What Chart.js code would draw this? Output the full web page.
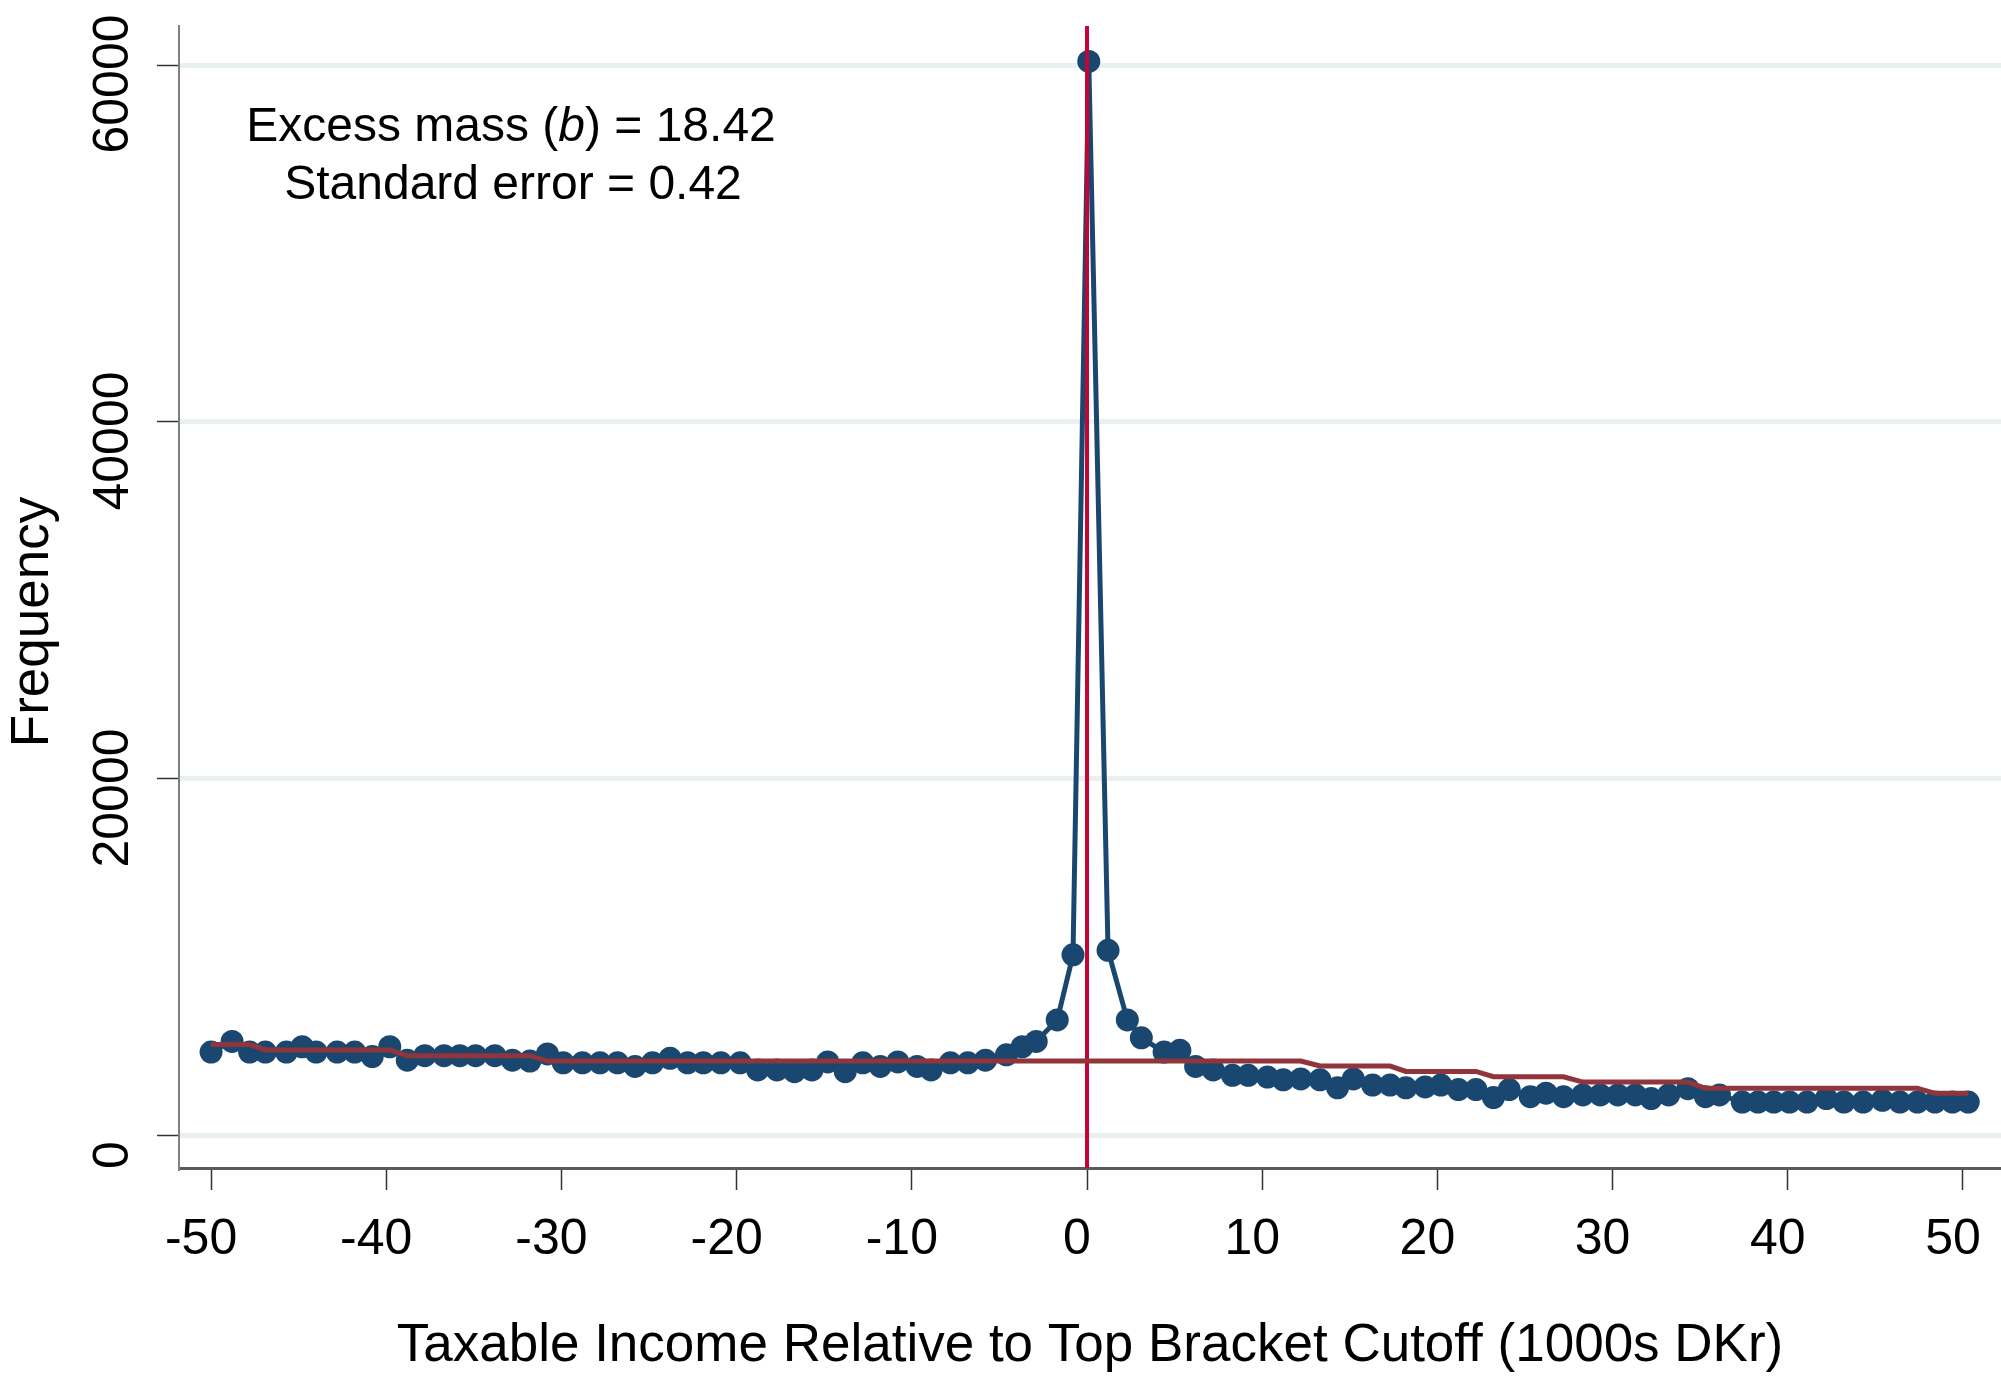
<!DOCTYPE html>
<html>
<head>
<meta charset="utf-8">
<script src="https://cdn.jsdelivr.net/npm/chart.js@4.4.1/dist/chart.umd.min.js"></script>
<style>
  html, body { margin: 0; padding: 0; background: #fff; }
  canvas { display: block; }
</style>
</head>
<body>
<canvas id="bunching" width="2001" height="1379"></canvas>
<script>
// bin centres (1000s DKr relative to cutoff)
const binX = [
  -50.0, -48.8, -47.8, -46.9, -45.7, -44.8, -44.0, -42.8, -41.8, -40.8,
  -39.8, -38.8, -37.8, -36.7, -35.8, -34.9, -33.8, -32.8, -31.8, -30.8,
  -29.9, -28.8, -27.8, -26.8, -25.8, -24.8, -23.8, -22.8, -21.9, -20.9,
  -19.8, -18.8, -17.7, -16.7, -15.7, -14.8, -13.8, -12.8, -11.8, -10.8,
  -9.7, -8.9, -7.8, -6.8, -5.8, -4.6, -3.7, -2.9, -1.7, -0.8,
  0.1, 1.2, 2.3, 3.1, 4.4, 5.3, 6.2, 7.2, 8.3, 9.2,
  10.3, 11.2, 12.2, 13.3, 14.3, 15.2, 16.3, 17.3, 18.2, 19.3,
  20.2, 21.2, 22.2, 23.2, 24.1, 25.3, 26.2, 27.2, 28.3, 29.3,
  30.3, 31.3, 32.2, 33.2, 34.3, 35.3, 36.1, 37.4, 38.3, 39.2,
  40.1, 41.1, 42.2, 43.2, 44.3, 45.4, 46.4, 47.4, 48.4, 49.4, 50.3
];

// observed frequency per bin
const frequency = [
  4700, 5300, 4700, 4700, 4700, 5000, 4700, 4700, 4700, 4450,
  5000, 4250, 4500, 4500, 4500, 4500, 4500, 4250, 4200, 4600,
  4100, 4100, 4100, 4100, 3900, 4100, 4350, 4100, 4100, 4100,
  4100, 3700, 3700, 3600, 3700, 4150, 3600, 4100, 3900, 4150,
  3900, 3700, 4100, 4100, 4250, 4550, 5000, 5300, 6500, 10150,
  60200, 10400, 6500, 5500, 4700, 4800, 3900, 3700, 3400, 3400,
  3300, 3150, 3200, 3150, 2700, 3200, 2850, 2850, 2700, 2750,
  2850, 2600, 2600, 2150, 2600, 2200, 2400, 2200, 2300, 2300,
  2300, 2300, 2100, 2300, 2650, 2200, 2300, 1900, 1900, 1900,
  1900, 1900, 2100, 1900, 1900, 2000, 1900, 1900, 1900, 1900, 1900
];

// counterfactual distribution per bin
const counterfactual = [
  5130, 5130, 5130, 4820, 4820, 4820, 4820, 4820, 4820, 4820,
  4820, 4500, 4500, 4500, 4500, 4500, 4500, 4500, 4500, 4200,
  4200, 4200, 4200, 4200, 4200, 4200, 4200, 4200, 4200, 4200,
  4200, 4200, 4200, 4200, 4200, 4200, 4200, 4200, 4200, 4200,
  4200, 4200, 4200, 4200, 4200, 4200, 4200, 4200, 4200, 4200,
  4200, 4200, 4200, 4200, 4200, 4200, 4200, 4200, 4200, 4200,
  4200, 4200, 4200, 3920, 3920, 3920, 3920, 3920, 3620, 3620,
  3620, 3620, 3620, 3320, 3320, 3320, 3320, 3320, 3020, 3020,
  3020, 3020, 3020, 3020, 3020, 2670, 2670, 2670, 2670, 2670,
  2670, 2670, 2670, 2670, 2670, 2670, 2670, 2670, 2390, 2390, 2390
];

const xTicks = [-50, -40, -30, -20, -10, 0, 10, 20, 30, 40, 50];
const yTicks = [0, 20000, 40000, 60000];
const cutoff = 0;

const FONT = "'Liberation Sans', Arial, Helvetica, sans-serif";
Chart.defaults.font.family = FONT;

function toPoints(xs, ys) {
  return xs.map((x, i) => ({ x: x, y: ys[i] }));
}

// cutoff line, rotated y labels, y title, excess mass note
const overlayPlugin = {
  id: "overlay",
  afterDatasetDraw(chart, args) {
    if (args.index !== 1) return; // after observed series, below counterfactual
    const { ctx, chartArea, scales } = chart;
    const px = scales.x.getPixelForValue(cutoff);
    ctx.save();
    ctx.strokeStyle = "#c10534";
    ctx.lineWidth = 4;
    ctx.beginPath();
    ctx.moveTo(px, chartArea.top);
    ctx.lineTo(px, chartArea.bottom);
    ctx.stroke();
    ctx.restore();
  },
  afterDraw(chart) {
    const { ctx, scales } = chart;
    ctx.save();
    ctx.fillStyle = "#000";
    ctx.font = "50px " + FONT;
    ctx.textAlign = "center";
    ctx.textBaseline = "middle";
    yTicks.forEach((v) => {
      const py = scales.y.getPixelForValue(v) + 19;
      ctx.save();
      ctx.translate(114, py);
      ctx.rotate(-Math.PI / 2);
      ctx.fillText(String(v), 0, 0);
      ctx.restore();
    });

    ctx.font = "53px " + FONT;
    ctx.save();
    ctx.translate(33, 622);
    ctx.rotate(-Math.PI / 2);
    ctx.fillText("Frequency", 0, 0);
    ctx.restore();

    // note text, "b" in italics
    const size = 48;
    const parts = [
      { t: "Excess mass (", f: size + "px " + FONT },
      { t: "b", f: "italic " + size + "px " + FONT },
      { t: ") = 18.42", f: size + "px " + FONT }
    ];
    ctx.textAlign = "left";
    let total = 0;
    parts.forEach((p) => { ctx.font = p.f; p.w = ctx.measureText(p.t).width; total += p.w; });
    let cx = 511 - total / 2;
    parts.forEach((p) => { ctx.font = p.f; ctx.fillText(p.t, cx, 128); cx += p.w; });
    ctx.font = size + "px " + FONT;
    ctx.textAlign = "center";
    ctx.fillText("Standard error = 0.42", 513, 186);
    ctx.restore();
  }
};

new Chart(document.getElementById("bunching"), {
  type: "scatter",
  data: {
    datasets: [
      {
        label: "Counterfactual",
        data: toPoints(binX, counterfactual),
        showLine: true,
        borderColor: "#90353b",
        borderWidth: 5,
        pointRadius: 0,
        fill: false
      },
      {
        label: "Frequency",
        data: toPoints(binX, frequency),
        showLine: true,
        borderColor: "#1a476f",
        borderWidth: 5,
        backgroundColor: "#1a476f",
        pointBackgroundColor: "#1a476f",
        pointBorderWidth: 0,
        pointRadius: 11.5,
        fill: false
      }
    ]
  },
  options: {
    responsive: false,
    animation: false,
    devicePixelRatio: 1,
    events: [],
    layout: { autoPadding: false, padding: { top: 26, right: 0, bottom: 0, left: 0 } },
    plugins: { legend: { display: false }, tooltip: { enabled: false } },
    scales: {
      x: {
        type: "linear",
        min: -51.83,
        max: 52.17,
        afterBuildTicks: (axis) => { axis.ticks = xTicks.map((v) => ({ value: v })); },
        afterFit: (axis) => { axis.height = 211; axis.paddingLeft = 0; axis.paddingRight = 0; },
        ticks: {
          color: "#000",
          font: { size: 50 },
          padding: 20,
          labelOffset: -10,
          maxRotation: 0,
          autoSkip: false,
          callback: (v) => String(v)
        },
        grid: { drawOnChartArea: false, drawTicks: true, tickLength: 22, tickColor: "#333", tickWidth: 1.5 },
        border: { display: true, color: "#5a5a5a", width: 3 },
        title: {
          display: true,
          text: "Taxable Income Relative to Top Bracket Cutoff (1000s DKr)",
          color: "#000",
          font: { size: 53 },
          padding: { top: 0, bottom: 1 }
        }
      },
      y: {
        type: "linear",
        min: -1793,
        max: 62185,
        afterBuildTicks: (axis) => { axis.ticks = yTicks.map((v) => ({ value: v })); },
        afterFit: (axis) => { axis.width = 179; axis.paddingTop = 0; axis.paddingBottom = 0; },
        ticks: { display: false },
        grid: { color: "#e8f0f1", lineWidth: 5, drawTicks: true, tickLength: 22, tickColor: "#333", tickWidth: 1.5 },
        border: { display: true, color: "#808080", width: 2 }
      }
    }
  },
  plugins: [overlayPlugin]
});
</script>
</body>
</html>
